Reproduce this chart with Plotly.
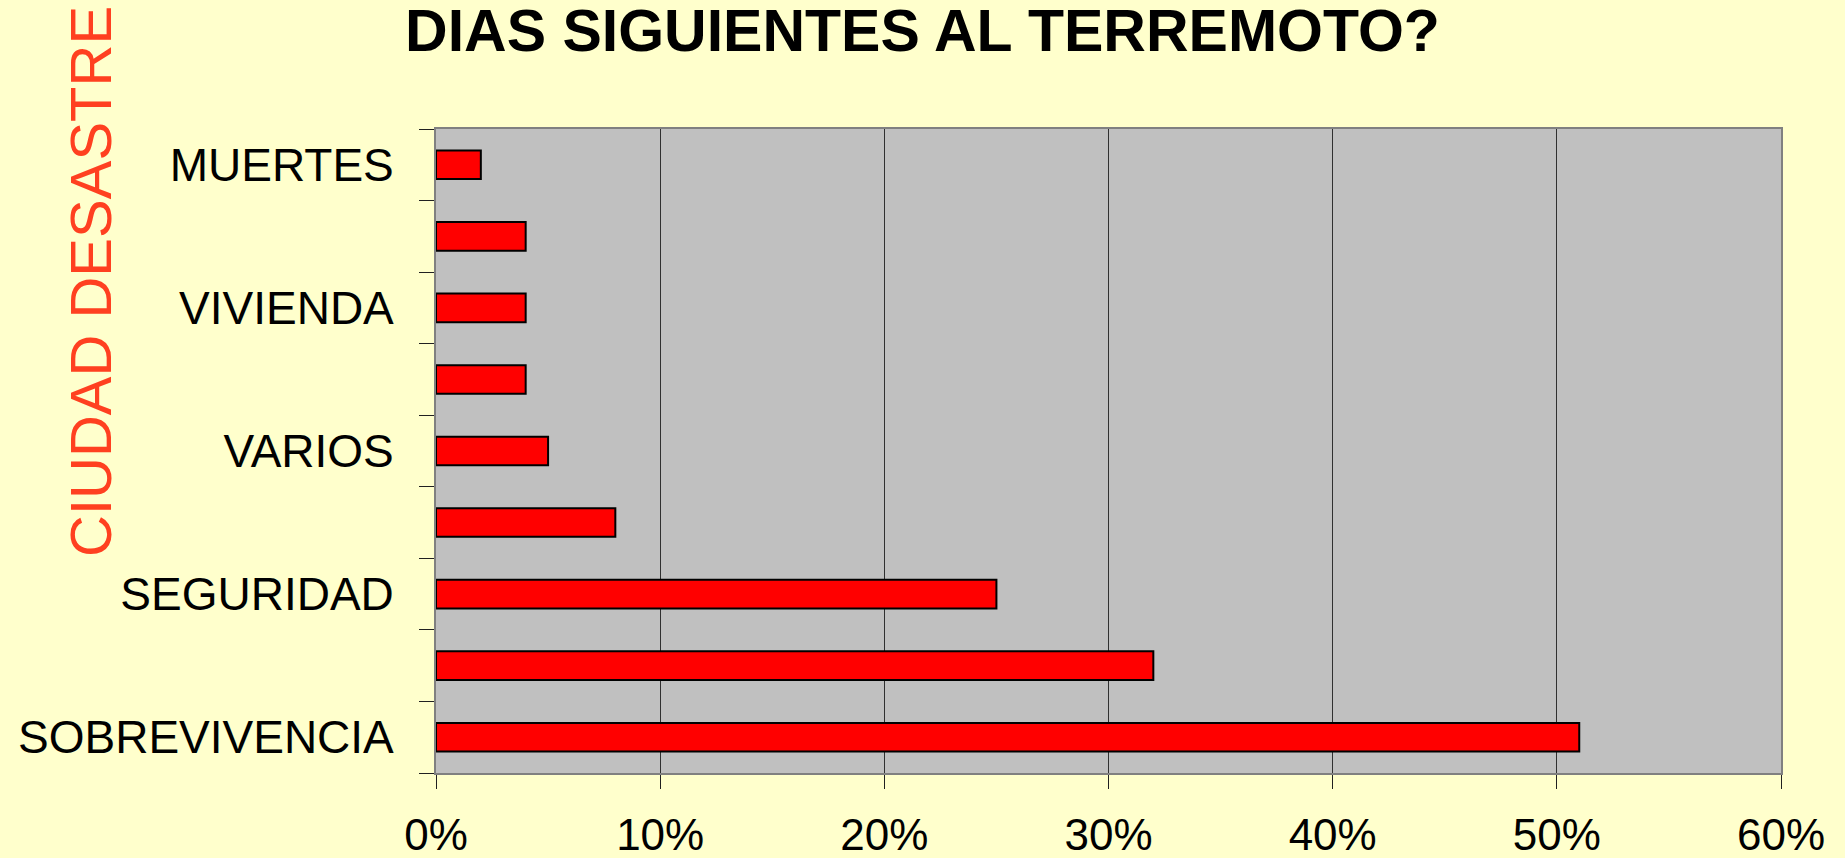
import plotly.graph_objects as go

# categories from bottom to top (only every other label is printed in the source)
categories = ["SOBREVIVENCIA", "", "SEGURIDAD", "", "VARIOS", "", "VIVIENDA", "", "MUERTES"]
values = [0.51, 0.32, 0.25, 0.08, 0.05, 0.04, 0.04, 0.04, 0.02]
x_ticks = [0, 0.1, 0.2, 0.3, 0.4, 0.5, 0.6]

FONT = "Liberation Sans, Arial, sans-serif"
positions = list(range(len(categories)))

fig = go.Figure()

fig.add_trace(go.Bar(
    x=values,
    y=positions,
    orientation='h',
    width=0.4,
    marker=dict(color='#FF0000', line=dict(color='black', width=2)),
    showlegend=False
))

fig.update_layout(
    width=1845,
    height=858,
    margin=dict(l=436, r=64, t=129, b=85),
    paper_bgcolor='#FFFFCC',
    plot_bgcolor='#C0C0C0',
    font=dict(family=FONT, color='black'),
    title=dict(
        text="<b>DIAS SIGUIENTES AL TERREMOTO?</b>",
        x=0.5, xanchor='center',
        y=1 - 30 / 858, yanchor='middle',
        font=dict(size=59, family=FONT, color='black')
    ),
    xaxis=dict(
        range=[0, 0.6],
        tickvals=x_ticks,
        tickformat='.0%',
        tickfont=dict(size=44),
        ticks='outside',
        ticklen=14,
        tickcolor='#202020',
        ticklabelstandoff=8,
        showgrid=True,
        gridcolor='#303030',
        gridwidth=1,
        zeroline=False,
        showline=True,
        linecolor='#808080',
        linewidth=2,
        mirror=True,
        automargin=False
    ),
    yaxis=dict(
        range=[-0.5, len(categories) - 0.5],
        tickvals=positions,
        ticktext=categories,
        tickfont=dict(size=46),
        ticks='',
        ticklabelstandoff=31,
        showgrid=False,
        zeroline=False,
        showline=True,
        linecolor='#808080',
        linewidth=2,
        mirror=True,
        automargin=False,
        minor=dict(
            tick0=0.5,
            dtick=1,
            ticks='outside',
            ticklen=15,
            tickcolor='#202020',
            showgrid=False
        )
    ),
    annotations=[
        dict(
            text="CIUDAD DESASTRE",
            textangle=-90,
            xref='paper', yref='paper',
            x=(90 - 436) / 1345, y=(773 - 282) / 644,
            xanchor='center', yanchor='middle',
            showarrow=False,
            font=dict(size=58, family=FONT, color='#FF4020')
        )
    ]
)

# drop the default page margin so the figure sits at the window corner
fig.write_html("out.html", config={'displayModeBar': False},
               post_script="document.body.style.margin='0';")
